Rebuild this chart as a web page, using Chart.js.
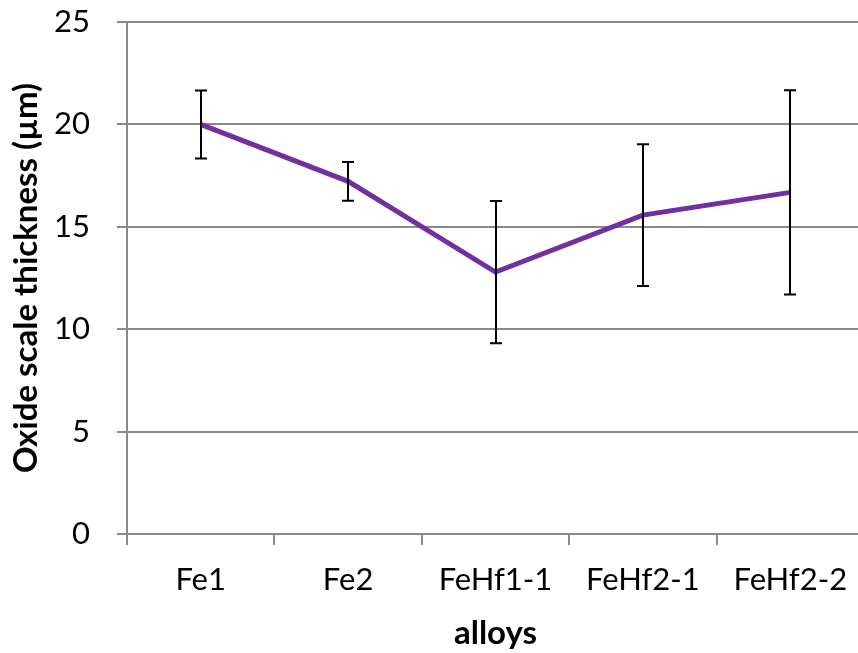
<!DOCTYPE html>
<html>
<head>
<meta charset="utf-8">
<script src="https://cdn.jsdelivr.net/npm/chart.js@4.4.1/dist/chart.umd.min.js"></script>
<style>
  html, body { margin: 0; padding: 0; background: #fff; overflow: hidden; }
  canvas { display: block; }
</style>
</head>
<body>
<canvas id="oxideChart" width="864" height="653"></canvas>
<script>
const alloys = ["Fe1", "Fe2", "FeHf1-1", "FeHf2-1", "FeHf2-2"];
const thickness = [20.0, 17.22, 12.79, 15.57, 16.68];
const thicknessErr = [1.66, 0.95, 3.47, 3.46, 4.99];

const gridGray = "#8a8a8a";

// error bars drawn through the y scale
const errorBars = {
    id: "errorBars",
    afterDatasetsDraw(chart) {
        const ctx = chart.ctx;
        const yScale = chart.scales.y;
        const meta = chart.getDatasetMeta(0);
        ctx.save();
        ctx.strokeStyle = "#000";
        ctx.lineWidth = 2;
        meta.data.forEach((pt, i) => {
            const top = yScale.getPixelForValue(thickness[i] + thicknessErr[i]);
            const bot = yScale.getPixelForValue(thickness[i] - thicknessErr[i]);
            const x = Math.round(pt.x);
            ctx.beginPath();
            ctx.moveTo(x, top);
            ctx.lineTo(x, bot);
            ctx.moveTo(x - 6, top);
            ctx.lineTo(x + 6, top);
            ctx.moveTo(x - 6, bot);
            ctx.lineTo(x + 6, bot);
            ctx.stroke();
        });
        ctx.restore();
    }
};

const chart = new Chart(document.getElementById("oxideChart"), {
    type: "line",
    data: {
        labels: alloys,
        datasets: [{
            label: "Oxide scale thickness",
            data: thickness,
            borderColor: "#7030A0",
            borderWidth: 5,
            pointRadius: 0,
            tension: 0,
            fill: false
        }]
    },
    options: {
        responsive: false,
        animation: false,
        layout: { padding: 0 },
        plugins: {
            legend: { display: false },
            tooltip: { enabled: false }
        },
        scales: {
            x: {
                offset: true,
                grid: {
                    offset: true,
                    drawOnChartArea: false,
                    tickLength: 11,
                    color: gridGray,
                    lineWidth: 2
                },
                border: { color: gridGray, width: 2 },
                ticks: {
                    color: "#000",
                    padding: 16,
                    font: { family: "Lato", size: 31 }
                },
                title: {
                    display: true,
                    text: "alloys",
                    color: "#000",
                    font: { family: "Lato", size: 33, weight: "bold" },
                    padding: { top: 0, bottom: 0 }
                },
                afterFit(scale) { scale.height = 119; }
            },
            y: {
                min: 0,
                max: 25,
                ticks: {
                    stepSize: 5,
                    color: "#000",
                    padding: 27,
                    font: { family: "Lato", size: 31 }
                },
                grid: {
                    color: gridGray,
                    lineWidth: 2,
                    tickLength: 10
                },
                border: { color: gridGray, width: 2 },
                title: {
                    display: true,
                    text: "Oxide scale thickness (µm)",
                    color: "#000",
                    font: { family: "Lato", size: 33, weight: "bold" },
                    padding: { top: 7, bottom: 0 }
                },
                afterFit(scale) {
                    scale.width = 127;
                    // plot top sits 22px below the canvas edge
                    scale.paddingTop = 22;
                    scale.paddingBottom = 0;
                }
            }
        }
    },
    plugins: [errorBars]
});
</script>
</body>
</html>
